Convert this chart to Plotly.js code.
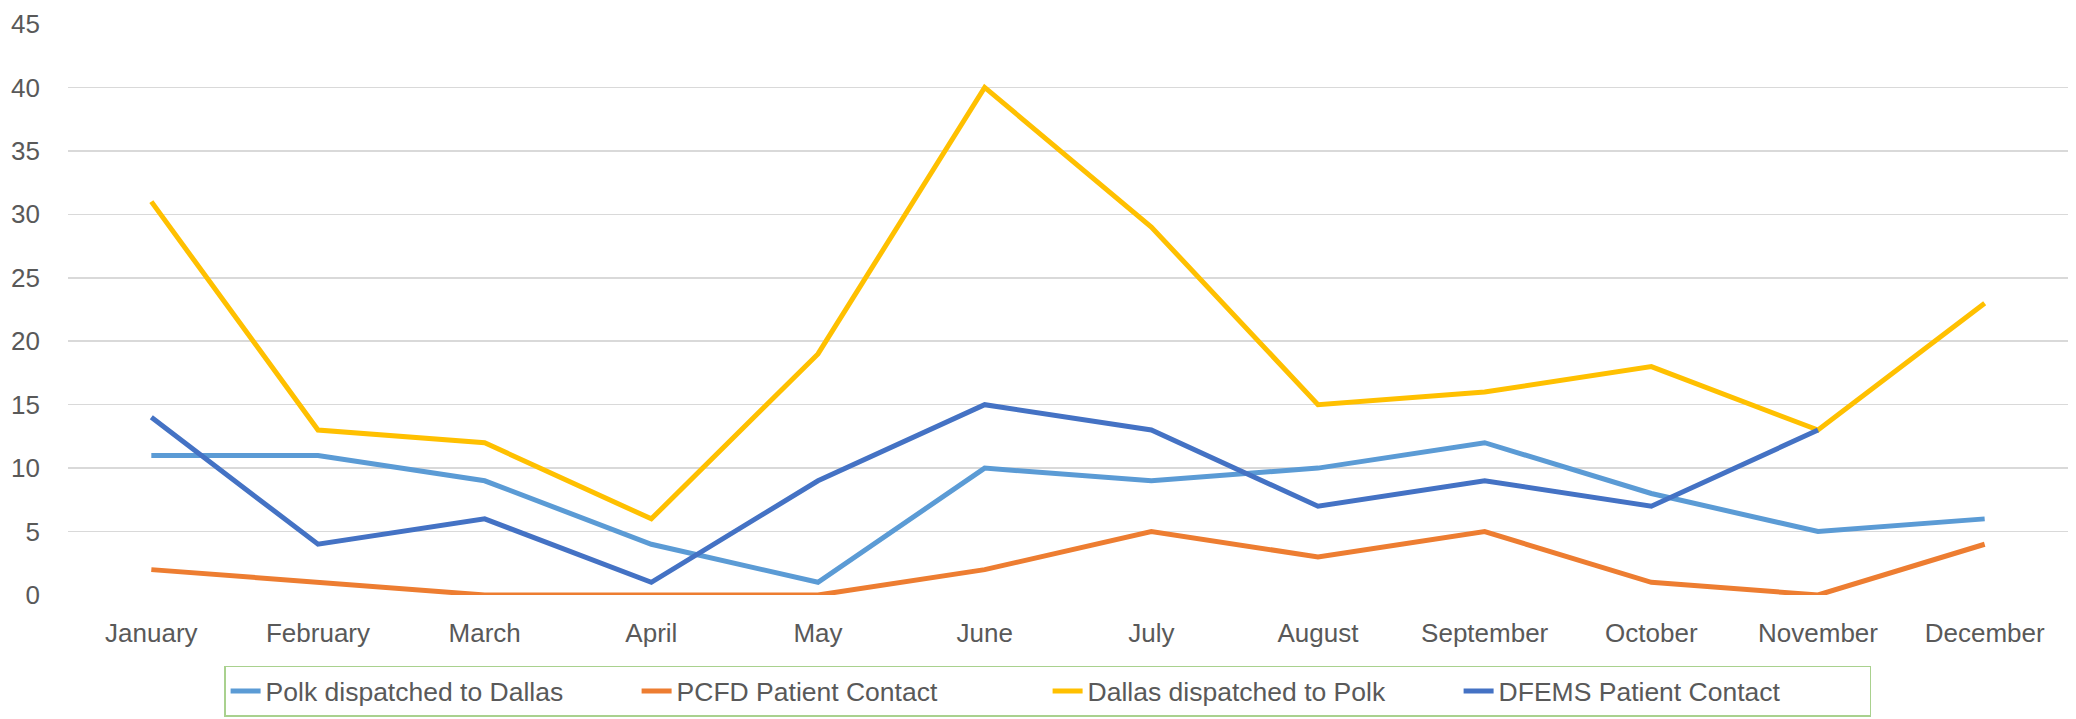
<!DOCTYPE html>
<html>
<head>
<meta charset="utf-8">
<script src="https://cdn.plot.ly/plotly-3.0.1.min.js"></script>
<style>
  html, body { margin: 0; padding: 0; background: #ffffff; }
  #chart { width: 2076px; height: 719px; }
</style>
</head>
<body>
<div id="chart"></div>
<script>
const months = ["January", "February", "March", "April", "May", "June", "July", "August", "September", "October", "November", "December"];
const polkToDallas = [11, 11, 9, 4, 1, 10, 9, 10, 12, 8, 5, 6];
const pcfdContact = [2, 1, 0, 0, 0, 2, 5, 3, 5, 1, 0, 4];
const dallasToPolk = [31, 13, 12, 6, 19, 40, 29, 15, 16, 18, 13, 23];
const dfemsContact = [14, 4, 6, 1, 9, 15, 13, 7, 9, 7, 13, null];
const yTicks = [0, 5, 10, 15, 20, 25, 30, 35, 40, 45];

function mk(name, y, color) {
  return {
    type: "scatter", mode: "lines", name: name, x: months, y: y,
    line: { color: color, width: 5, shape: "linear" },
    connectgaps: false, hoverinfo: "skip"
  };
}

const data = [
  mk("Polk dispatched to Dallas", polkToDallas, "#5B9BD5"),
  mk("PCFD Patient Contact", pcfdContact, "#ED7D31"),
  mk("Dallas dispatched to Polk", dallasToPolk, "#FFC000"),
  mk("DFEMS Patient Contact", dfemsContact, "#4472C4")
];

const layout = {
  width: 2076, height: 719,
  paper_bgcolor: "#ffffff", plot_bgcolor: "#ffffff",
  margin: { l: 68, r: 8, t: 23.5, b: 124, autoexpand: false },
  font: { family: "Liberation Sans, Arial, sans-serif", color: "#595959", size: 26 },
  xaxis: {
    type: "category", categoryorder: "array", categoryarray: months,
    range: [-0.5, 11.5], showgrid: false, zeroline: false, showline: false,
    ticks: "", tickfont: { size: 26, color: "#595959" }, ticklabelstandoff: 20,
    automargin: false
  },
  yaxis: {
    range: [0, 45], tickvals: yTicks, ticktext: yTicks.map(String),
    showgrid: true, gridcolor: "#D9D9D9", gridwidth: 1.6,
    zeroline: false, showline: false, ticks: "",
    tickfont: { size: 26, color: "#595959" }, ticklabelstandoff: 27,
    automargin: false
  },
  showlegend: true,
  legend: {
    orientation: "h", x: 0.4898, xanchor: "center", y: -0.124, yanchor: "top",
    bordercolor: "#A9D18E", borderwidth: 1.5, bgcolor: "#ffffff",
    font: { size: 26.5, color: "#595959" },
    entrywidth: 366, entrywidthmode: "pixels",
    traceorder: "normal"
  }
};

Plotly.newPlot("chart", data, layout, { staticPlot: true, displayModeBar: false });
</script>
</body>
</html>
